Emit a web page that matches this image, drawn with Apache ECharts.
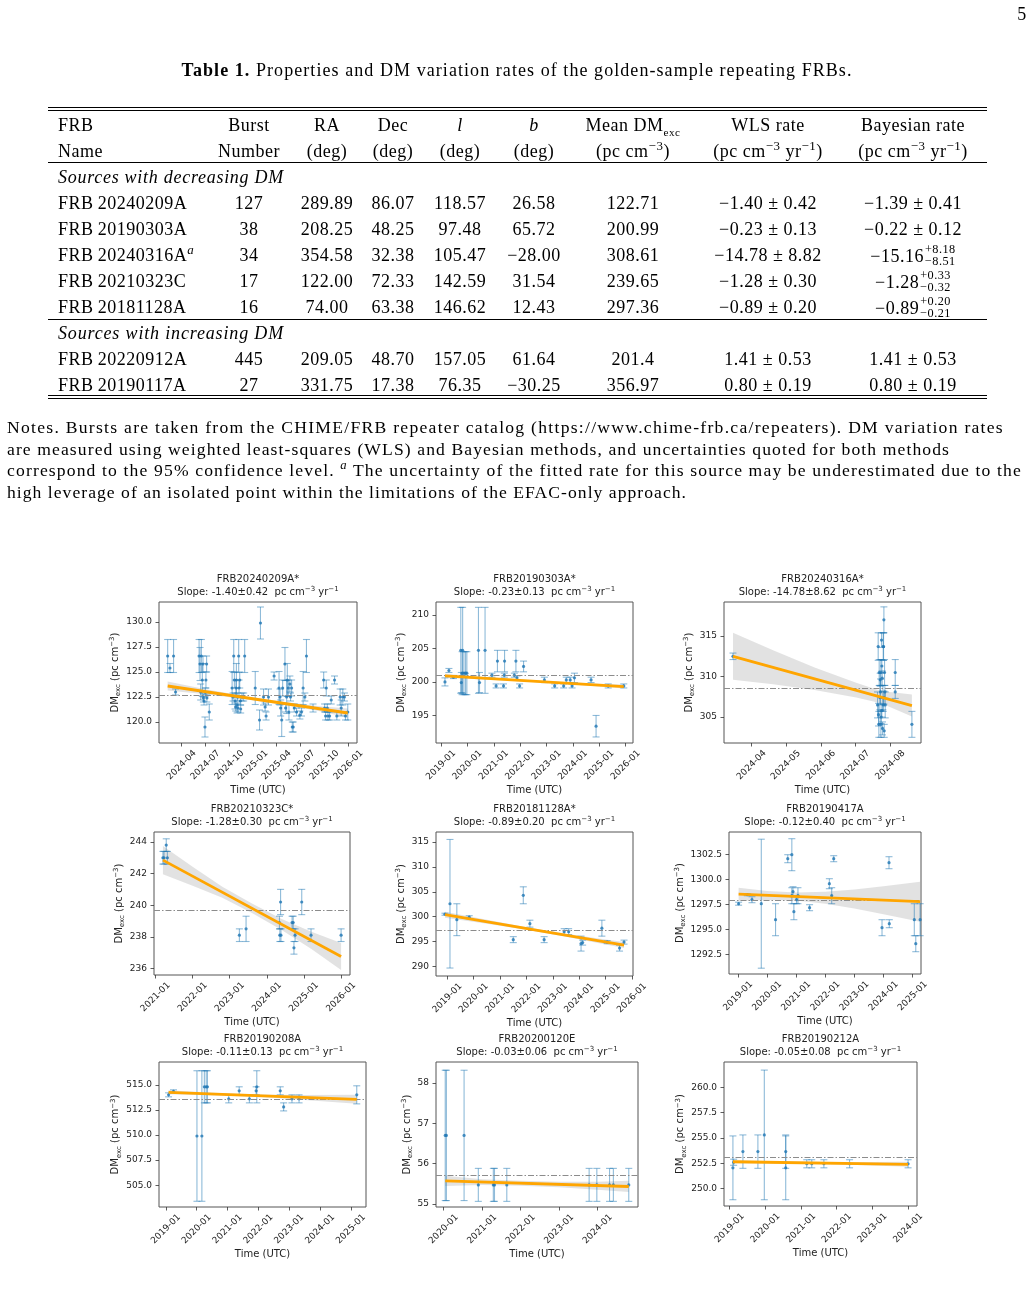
<!DOCTYPE html>
<html>
<head>
<meta charset="utf-8">
<script src="https://cdn.jsdelivr.net/npm/echarts@6/dist/echarts.min.js"></script>
<style>
html, body { margin: 0; padding: 0; background: #fff; }
#page { position: relative; width: 1034px; height: 1294px; overflow: hidden; font-family: "Liberation Serif", "DejaVu Serif", serif; color: #000; }
#chart { position: absolute; left: 0; top: 0; width: 1034px; height: 1294px; z-index: 0; }
.c, .l { position: absolute; white-space: nowrap; font-size: 18px; line-height: 1; letter-spacing: 0.5px; z-index: 1; }
.c { transform: translate(-50%, -50%); }
.l { transform: translate(0, -50%); }
.rule { position: absolute; left: 48px; width: 939px; height: 1px; background: #000; z-index: 1; }
sup, sub { font-size: 0.72em; line-height: 0; }
.ud { display: inline-block; vertical-align: -0.28em; font-size: 0.68em; line-height: 1.02; text-align: left; margin-left: 1px; }
.ud span { display: block; }
.note { position: absolute; left: 7px; white-space: nowrap; font-size: 17.6px; line-height: 1; transform: translate(0, -50%); z-index: 1; }
</style>
</head>
<body>
<div id="page">
  <div id="chart"></div>
</div>
<script>
// ---------- table data ----------
const frbNames = ['FRB\u200920240209A', 'FRB\u200920190303A', 'FRB\u200920240316A<sup><i>a</i></sup>', 'FRB\u200920210323C', 'FRB\u200920181128A', 'FRB\u200920220912A', 'FRB\u200920190117A']
const burstNumbers = ['127', '38', '34', '17', '16', '445', '27']
const raDeg = ['289.89', '208.25', '354.58', '122.00', '74.00', '209.05', '331.75']
const decDeg = ['86.07', '48.25', '32.38', '72.33', '63.38', '48.70', '17.38']
const lDeg = ['118.57', '97.48', '105.47', '142.59', '146.62', '157.05', '76.35']
const bDeg = ['26.58', '65.72', '\u221228.00', '31.54', '12.43', '61.64', '\u221230.25']
const meanDm = ['122.71', '200.99', '308.61', '239.65', '297.36', '201.4', '356.97']
const wlsRate = ['\u22121.40 \u00b1 0.42', '\u22120.23 \u00b1 0.13', '\u221214.78 \u00b1 8.82', '\u22121.28 \u00b1 0.30', '\u22120.89 \u00b1 0.20', '1.41 \u00b1 0.53', '0.80 \u00b1 0.19']
const bayesRate = [
  '\u22121.39 \u00b1 0.41',
  '\u22120.22 \u00b1 0.12',
  '\u221215.16<span class="ud"><span>+8.18</span><span>\u22128.51</span></span>',
  '\u22121.28<span class="ud"><span>+0.33</span><span>\u22120.32</span></span>',
  '\u22120.89<span class="ud"><span>+0.20</span><span>\u22120.21</span></span>',
  '1.41 \u00b1 0.53',
  '0.80 \u00b1 0.19',
]

// ---------- panel data: [decimal year, DM_exc, error] ----------
const pts20240209A = [
  [2024.101, 126.6, 1.65], [2024.125, 125.4, 0.45], [2024.163, 126.6, 1.65], [2024.184, 123.0, 0.3],
  [2024.431, 126.6, 1.65], [2024.441, 125.8, 1.65], [2024.448, 123.0, 0.8], [2024.455, 126.6, 1.65], [2024.465, 124.2, 1.65],
  [2024.472, 125.8, 0.8], [2024.476, 122.4, 0.4], [2024.483, 122.1, 0.4], [2024.493, 119.5, 1.0], [2024.497, 123.0, 0.4],
  [2024.503, 124.2, 0.8], [2024.510, 125.8, 0.8], [2024.513, 122.4, 0.4], [2024.538, 121.0, 0.8],
  [2024.778, 123.4, 1.65], [2024.788, 122.5, 0.4], [2024.795, 126.6, 1.65], [2024.802, 124.2, 0.8], [2024.809, 122.1, 0.8],
  [2024.816, 121.5, 0.4], [2024.819, 123.4, 0.8], [2024.823, 124.2, 1.65], [2024.830, 121.7, 0.8], [2024.837, 122.5, 0.4],
  [2024.840, 121.4, 0.4], [2024.847, 126.6, 1.65], [2024.851, 123.4, 0.8], [2024.858, 124.2, 0.8], [2024.865, 122.1, 0.4],
  [2024.868, 121.3, 0.4], [2024.882, 122.5, 0.4], [2024.899, 122.5, 0.4], [2024.910, 126.6, 1.65],
  [2025.021, 123.4, 1.65], [2025.066, 120.2, 1.0], [2025.076, 129.9, 1.6], [2025.108, 122.5, 0.8], [2025.125, 121.5, 0.4],
  [2025.135, 120.6, 0.4], [2025.160, 122.5, 0.8], [2025.219, 124.6, 0.4],
  [2025.271, 123.4, 1.65], [2025.281, 122.5, 0.8], [2025.288, 121.4, 0.8], [2025.299, 120.2, 1.65], [2025.309, 123.4, 0.8],
  [2025.333, 125.8, 1.65], [2025.340, 121.4, 0.4], [2025.351, 122.5, 1.65], [2025.358, 124.2, 1.65], [2025.368, 123.4, 0.8],
  [2025.375, 121.0, 0.8], [2025.385, 123.8, 0.8], [2025.392, 122.5, 0.4], [2025.403, 123.4, 0.8], [2025.410, 119.5, 0.5],
  [2025.420, 119.5, 0.5], [2025.431, 121.4, 0.4], [2025.455, 121.0, 0.4], [2025.490, 120.7, 0.4], [2025.507, 121.0, 0.4],
  [2025.524, 123.4, 1.65], [2025.542, 122.5, 0.4], [2025.559, 126.6, 1.65], [2025.628, 121.4, 0.4],
  [2025.740, 124.2, 0.8], [2025.750, 121.4, 0.4], [2025.760, 120.6, 0.4], [2025.767, 123.4, 0.8], [2025.778, 121.4, 0.4],
  [2025.785, 120.6, 0.4], [2025.802, 120.6, 0.4], [2025.819, 122.2, 0.4], [2025.854, 124.2, 0.4], [2025.878, 120.6, 0.4],
  [2025.913, 122.5, 0.8], [2025.924, 121.4, 0.8], [2025.941, 122.5, 0.8], [2025.958, 122.5, 0.4], [2025.969, 120.6, 0.4],
  [2025.993, 121.0, 0.8],
]
const pts20190303A = [
  [2019.15, 200.0, 0.6], [2019.30, 201.7, 0.3], [2019.47, 200.7, 0.2],
  [2019.75, 204.7, 6.4], [2019.77, 199.9, 1.5], [2019.80, 201.3, 3.2], [2019.82, 204.7, 6.4], [2019.87, 201.3, 3.2],
  [2019.93, 201.3, 3.2], [2019.98, 201.3, 3.2],
  [2020.42, 204.7, 6.4], [2020.46, 199.9, 1.5], [2020.67, 204.7, 6.4],
  [2020.93, 201.0, 0.3], [2021.09, 199.4, 0.3], [2021.14, 203.1, 1.6], [2021.37, 199.4, 0.3], [2021.40, 201.0, 0.3],
  [2021.41, 203.1, 1.6], [2021.78, 201.0, 0.3], [2021.84, 203.1, 1.6], [2021.88, 200.6, 0.3], [2021.98, 199.4, 0.3],
  [2022.13, 202.3, 0.8], [2022.92, 200.3, 0.4], [2023.31, 199.4, 0.3], [2023.65, 199.4, 0.3], [2023.75, 200.3, 0.4],
  [2023.90, 200.3, 0.4], [2023.97, 199.4, 0.3], [2024.06, 200.6, 0.7], [2024.69, 200.3, 0.4], [2024.88, 193.4, 1.6],
  [2025.34, 199.4, 0.3], [2025.93, 199.4, 0.3],
]
const pts20240316A = [
  [2024.2036, 312.5, 0.4],
  [2024.5514, 306.5, 1.6], [2024.5530, 313.7, 1.7], [2024.5538, 305.3, 1.4], [2024.5546, 304.1, 1.6], [2024.5554, 310.5, 1.6],
  [2024.5570, 307.4, 1.5], [2024.5578, 309.6, 0.8], [2024.5586, 308.1, 1.6], [2024.5594, 304.1, 1.6], [2024.5602, 305.0, 0.8],
  [2024.5610, 314.5, 0.9], [2024.5618, 311.3, 0.8], [2024.5626, 309.8, 0.9], [2024.5634, 303.6, 0.8], [2024.5643, 307.4, 1.5],
  [2024.5651, 306.5, 0.8], [2024.5659, 313.7, 1.7], [2024.5667, 317.0, 1.6], [2024.5675, 303.3, 0.8], [2024.5683, 310.5, 1.6],
  [2024.5691, 308.1, 0.8], [2024.5699, 306.5, 1.6], [2024.5651, 313.7, 1.7], [2024.5594, 310.5, 1.6], [2024.5618, 305.8, 0.8],
  [2024.5667, 307.4, 0.8],
  [2024.5940, 310.5, 1.6], [2024.5940, 308.1, 0.8], [2024.6341, 304.1, 1.6],
]
const pts20210323C = [
  [2021.20, 243.0, 0.4], [2021.23, 243.0, 0.4], [2021.29, 243.8, 0.4], [2021.32, 243.0, 0.4], [2023.26, 238.1, 0.4],
  [2023.44, 238.5, 0.8], [2024.34, 238.9, 0.4], [2024.35, 238.1, 0.4], [2024.37, 240.2, 0.8], [2024.38, 238.1, 0.4],
  [2024.68, 238.9, 0.4], [2024.71, 238.9, 0.4], [2024.73, 237.3, 0.4], [2024.76, 238.1, 0.4], [2024.94, 240.2, 0.8],
  [2025.19, 238.1, 0.4], [2026.00, 238.1, 0.4],
]
const pts20181128A = [
  [2018.91, 300.5, 0.2], [2019.10, 302.6, 12.9], [2019.36, 299.4, 3.2], [2019.83, 299.9, 0.3], [2021.50, 295.4, 0.6],
  [2021.88, 304.3, 1.7], [2022.13, 298.6, 0.7], [2022.67, 295.4, 0.6], [2023.43, 297.0, 0.6], [2023.60, 297.0, 0.6],
  [2024.07, 294.6, 1.5], [2024.13, 294.8, 0.5], [2024.86, 297.7, 1.6], [2025.06, 294.9, 0.3], [2025.53, 293.7, 0.6],
  [2025.70, 294.9, 0.4],
]
const pts20190417A = [
  [2019.02, 1297.6, 0.15], [2019.32, 1298.5, 0.1], [2019.48, 1298.0, 0.3], [2019.80, 1297.6, 6.45], [2020.29, 1296.0, 1.6],
  [2020.71, 1302.1, 0.4], [2020.85, 1302.5, 1.6], [2020.85, 1298.4, 0.8], [2020.89, 1298.8, 0.5], [2020.92, 1296.8, 0.8],
  [2021.01, 1298.0, 0.4], [2021.06, 1298.4, 0.8], [2021.46, 1297.2, 0.3], [2022.14, 1299.6, 0.5], [2022.22, 1298.4, 0.8],
  [2022.29, 1302.1, 0.3], [2023.95, 1295.2, 0.8], [2024.19, 1301.7, 0.6], [2024.20, 1295.6, 0.4], [2025.06, 1296.0, 1.6],
  [2025.11, 1293.6, 0.8], [2025.26, 1296.0, 1.6],
]
const pts20190208A = [
  [2019.09, 514.0, 0.2], [2019.25, 514.35, 0.15], [2020.01, 509.9, 6.5], [2020.17, 509.9, 6.5], [2020.25, 514.8, 1.6],
  [2020.31, 514.8, 1.6], [2020.35, 514.8, 1.6], [2021.04, 513.6, 0.4], [2021.38, 514.4, 0.4], [2021.71, 513.6, 0.4],
  [2021.93, 514.4, 0.4], [2021.95, 514.8, 1.6], [2022.71, 514.4, 0.4], [2022.82, 512.8, 0.4], [2023.09, 513.6, 0.4],
  [2023.32, 513.6, 0.4], [2025.19, 514.0, 0.9],
]
const pts20200120E = [
  [2020.04, 56.7, 1.62], [2020.07, 56.7, 1.62], [2020.53, 56.7, 1.62], [2020.90, 55.47, 0.41], [2021.29, 55.47, 0.41],
  [2021.32, 55.47, 0.41], [2021.64, 55.47, 0.41], [2023.78, 55.47, 0.41], [2023.98, 55.47, 0.41], [2024.31, 55.47, 0.41],
  [2024.41, 55.47, 0.41], [2024.81, 55.47, 0.41],
]
const pts20190212A = [
  [2019.09, 252.05, 3.15], [2019.11, 252.6, 0.3], [2019.37, 253.65, 1.65], [2019.79, 253.65, 1.65], [2019.97, 255.3, 6.4],
  [2020.57, 253.65, 1.65], [2020.57, 252.05, 3.15], [2021.16, 252.45, 0.4], [2021.30, 252.45, 0.4], [2021.64, 252.45, 0.4],
  [2022.36, 252.45, 0.4], [2024.00, 252.45, 0.4],
]

// fitted lines: [[x0, y0], [x1, y1]]
const fits = [
  [[2024.101, 123.6], [2025.993, 120.9]],
  [[2019.15, 200.9], [2025.93, 199.3]],
  [[2024.2036, 312.5], [2024.6341, 306.4]],
  [[2021.20, 242.85], [2026.00, 236.75]],
  [[2018.91, 300.4], [2025.70, 294.3]],
  [[2019.02, 1298.55], [2025.26, 1297.8]],
  [[2019.09, 514.25], [2025.19, 513.55]],
  [[2020.04, 55.57], [2024.81, 55.43]],
  [[2019.09, 252.65], [2024.00, 252.4]],
]
// confidence bands: [x, upper, lower]
const bands = [
  [[2024.101, 124.05, 123.15], [2024.5, 123.28, 122.78], [2024.9, 122.61, 122.31], [2025.3, 122.04, 121.74], [2025.7, 121.57, 121.07], [2025.993, 121.35, 120.45]],
  [[2019.15, 201.2, 200.6], [2020.5, 200.78, 200.38], [2022.0, 200.35, 200.11], [2023.5, 199.99, 199.75], [2025.0, 199.72, 199.32], [2025.93, 199.6, 199.0]],
  [[2024.2036, 315.4, 309.6], [2024.30, 313.24, 309.04], [2024.40, 311.13, 308.33], [2024.50, 309.22, 307.42], [2024.56, 308.22, 306.72], [2024.6341, 307.78, 305.08]],
  [[2021.2, 243.75, 241.95], [2022.0, 242.43, 241.23], [2022.8, 241.17, 240.47], [2023.6, 240.1, 239.5], [2024.4, 239.13, 238.43], [2025.2, 238.32, 237.22], [2026.0, 237.6, 235.9]],
  [[2018.91, 301.0, 299.8], [2020.5, 299.37, 298.57], [2022.0, 297.88, 297.38], [2023.5, 296.58, 295.98], [2025.0, 295.43, 294.43], [2025.70, 294.9, 293.7]],
  [[2019.02, 1299.2, 1297.9], [2020.0, 1298.88, 1297.98], [2021.0, 1298.71, 1297.91], [2022.0, 1298.79, 1297.59], [2023.0, 1299.02, 1297.12], [2024.0, 1299.35, 1296.55], [2025.26, 1299.8, 1295.8]],
  [[2019.09, 514.45, 514.05], [2020.5, 514.21, 513.97], [2022.0, 514.04, 513.8], [2023.5, 513.99, 513.49], [2025.19, 514.0, 513.1]],
  [[2020.04, 55.70, 55.44], [2021.0, 55.61, 55.47], [2022.0, 55.57, 55.45], [2023.0, 55.55, 55.41], [2024.0, 55.55, 55.35], [2024.81, 55.57, 55.29]],
  [[2019.09, 252.8, 252.5], [2020.5, 252.68, 252.48], [2022.0, 252.6, 252.4], [2024.0, 252.65, 252.15]],
]

const panelPoints = [pts20240209A, pts20190303A, pts20240316A, pts20210323C, pts20181128A, pts20190417A, pts20190208A, pts20200120E, pts20190212A]
const panelNames = ['FRB20240209A*', 'FRB20190303A*', 'FRB20240316A*', 'FRB20210323C*', 'FRB20181128A*', 'FRB20190417A', 'FRB20190208A', 'FRB20200120E', 'FRB20190212A']
const panelSlopes = ['-1.40\u00b10.42', '-0.23\u00b10.13', '-14.78\u00b18.62', '-1.28\u00b10.30', '-0.89\u00b10.20', '-0.12\u00b10.40', '-0.11\u00b10.13', '-0.03\u00b10.06', '-0.05\u00b10.08']
const panelMeans = [122.71, 200.99, 308.61, 239.65, 297.36, 1297.95, 513.6, 55.72, 253.07]
const xRanges = [[2024.01, 2026.09], [2018.81, 2026.28], [2024.182, 2024.656], [2020.96, 2026.24], [2018.57, 2026.04], [2018.69, 2025.29], [2018.78, 2025.49], [2019.80, 2025.05], [2018.84, 2024.25]]
const yRanges = [[117.9, 132.0], [190.9, 211.9], [301.8, 319.2], [235.58, 244.63], [288.1, 317.0], [1290.57, 1304.77], [502.83, 517.27], [54.92, 58.525], [248.28, 262.5]]
const yearTicks = (a, b) => { const out = []; for (let y = a; y <= b; y++) out.push(y + '-01'); return out }
const xTickLabels = [
  ['2024-04', '2024-07', '2024-10', '2025-01', '2025-04', '2025-07', '2025-10', '2026-01'],
  yearTicks(2019, 2026),
  ['2024-04', '2024-05', '2024-06', '2024-07', '2024-08'],
  yearTicks(2021, 2026),
  yearTicks(2019, 2026),
  yearTicks(2019, 2025),
  yearTicks(2019, 2025),
  yearTicks(2020, 2024),
  yearTicks(2019, 2024),
]
const yTickValues = [
  [120.0, 122.5, 125.0, 127.5, 130.0],
  [195, 200, 205, 210],
  [305, 310, 315],
  [236, 238, 240, 242, 244],
  [290, 295, 300, 305, 310, 315],
  [1292.5, 1295.0, 1297.5, 1300.0, 1302.5],
  [505.0, 507.5, 510.0, 512.5, 515.0],
  [55, 56, 57, 58],
  [250.0, 252.5, 255.0, 257.5, 260.0],
]
const yDecimals = [1, 0, 0, 0, 0, 1, 1, 0, 1]

// ---------- layout ----------
const boxes = [
  [159, 602, 198, 141], [436, 602, 197, 141], [724, 602, 197, 141],
  [154, 832, 196, 143], [436, 832, 197, 144], [729, 832, 192, 142],
  [159, 1062, 207, 145], [436, 1062, 202, 145], [724, 1062, 193, 144],
]
const yNameGaps = [37, 24, 27, 26, 24, 40, 35, 19, 34]

// ---------- table text ----------
const page = document.getElementById('page')
const put = (html, x, y, cls = 'c') => {
  const d = document.createElement('div')
  d.className = cls
  d.style.left = x + 'px'
  d.style.top = y + 'px'
  d.innerHTML = html
  page.appendChild(d)
  return d
}
const rule = y => {
  const d = document.createElement('div')
  d.className = 'rule'
  d.style.top = y + 'px'
  page.appendChild(d)
}
// stretch a text line to the width it has in the typeset page (wider serif)
const fitWidth = (el, target) => {
  el.style.letterSpacing = '0px'
  const w = el.getBoundingClientRect().width
  const n = Math.max(1, el.textContent.length)
  el.style.letterSpacing = ((target - w) / n) + 'px'
}

put('5', 1022, 14)
fitWidth(put('<b>Table 1.</b> Properties and DM variation rates of the golden-sample repeating FRBs.', 517, 70), 671)
rule(106.5); rule(109.5); rule(162); rule(319); rule(394.5); rule(397.5)

const colX = [249, 327, 393, 460, 534, 633, 768, 913]
put('FRB', 58, 125, 'l')
put('Name', 58, 151, 'l')
;['Burst', 'RA', 'Dec', '<i>l</i>', '<i>b</i>', 'Mean DM<sub style="font-size:0.62em">exc</sub>', 'WLS rate', 'Bayesian rate'].forEach((h, i) => put(h, colX[i], 125))
;['Number', '(deg)', '(deg)', '(deg)', '(deg)', '(pc cm<sup>\u22123</sup>)', '(pc cm<sup>\u22123</sup> yr<sup>\u22121</sup>)', '(pc cm<sup>\u22123</sup> yr<sup>\u22121</sup>)'].forEach((h, i) => put(h, colX[i], 151))
fitWidth(put('<i>Sources with decreasing DM</i>', 58, 177, 'l'), 226)
fitWidth(put('<i>Sources with increasing DM</i>', 58, 333, 'l'), 226)
const rowY = [203, 229, 255, 281, 307, 359, 385]
rowY.forEach((y, r) => {
  put(frbNames[r], 58, y, 'l')
  ;[burstNumbers, raDeg, decDeg, lDeg, bDeg, meanDm, wlsRate, bayesRate].forEach((col, i) => put(col[r], colX[i], y))
})

const noteLines = [
  'Notes. Bursts are taken from the CHIME/FRB repeater catalog (https://www.chime-frb.ca/repeaters). DM variation rates',
  'are measured using weighted least-squares (WLS) and Bayesian methods, and uncertainties quoted for both methods',
  'correspond to the 95% confidence level. <sup><i>a</i></sup> The uncertainty of the fitted rate for this source may be underestimated due to the',
  'high leverage of an isolated point within the limitations of the EFAC-only approach.',
]
const noteY = [428, 450, 471, 493]
const noteWidths = [997, 943, 1015, 680]
noteLines.forEach((t, i) => fitWidth(put(t, 7, noteY[i], 'note'), noteWidths[i]))

// ---------- charts ----------
const decYear = s => {
  const [y, m] = s.split('-').map(Number)
  const t0 = Date.UTC(y, 0, 1)
  const t1 = Date.UTC(y + 1, 0, 1)
  return y + (Date.UTC(y, m - 1, 1) - t0) / (t1 - t0)
}

const FONT = 'DejaVu Sans'
const TXT = '#222'
const supStyle = {fontSize: 7, fontFamily: FONT, color: TXT, verticalAlign: 'top', lineHeight: 13}
const subStyle = {fontSize: 7, fontFamily: FONT, color: TXT, verticalAlign: 'bottom', lineHeight: 13}

const grids = [], xAxes = [], yAxes = [], series = [], graphics = []

boxes.forEach((b, i) => {
  const [left, top, width, height] = b
  grids.push({left, top, width, height, show: true, borderColor: '#555', borderWidth: 1, backgroundColor: 'transparent', containLabel: false, outerBoundsMode: 'none'})

  const tickVals = xTickLabels[i].map(decYear)
  xAxes.push({
    gridIndex: i, type: 'value', min: xRanges[i][0], max: xRanges[i][1],
    axisLine: {show: false},
    splitLine: {show: false},
    axisTick: {show: true, length: 3.5, customValues: tickVals, lineStyle: {color: '#333', width: 0.8}},
    axisLabel: {
      customValues: tickVals, rotate: 45, align: 'center', verticalAlign: 'middle', margin: 22,
      fontSize: 9, fontFamily: FONT, color: TXT,
      formatter: v => {
        const k = tickVals.findIndex(t => Math.abs(t - v) < 1e-6)
        return k >= 0 ? xTickLabels[i][k] : ''
      },
    },
    name: 'Time (UTC)', nameLocation: 'middle', nameGap: 42,
    nameTextStyle: {fontSize: 10, fontFamily: FONT, color: TXT},
  })

  yAxes.push({
    gridIndex: i, type: 'value', min: yRanges[i][0], max: yRanges[i][1],
    axisLine: {show: false},
    splitLine: {show: false},
    axisTick: {show: true, length: 3.5, customValues: yTickValues[i], lineStyle: {color: '#333', width: 0.8}},
    axisLabel: {
      customValues: yTickValues[i], margin: 7, fontSize: 9, fontFamily: FONT, color: TXT,
      formatter: v => v.toFixed(yDecimals[i]),
    },
    name: 'DM{sub|exc} (pc cm{sup|\u22123})', nameLocation: 'middle', nameRotate: 90, nameGap: yNameGaps[i],
    nameTextStyle: {fontSize: 10, fontFamily: FONT, color: TXT, lineHeight: 13, rich: {sub: subStyle, sup: supStyle}},
  })

  const pts = panelPoints[i]
  const band = bands[i]

  series.push({
    type: 'custom', xAxisIndex: i, yAxisIndex: i, z: 1, silent: true,
    data: band,
    renderItem: (params, api) => {
      if (params.dataIndex !== 0) return null
      const upper = band.map(p => api.coord([p[0], p[1]]))
      const lower = band.map(p => api.coord([p[0], p[2]])).reverse()
      return {type: 'polygon', shape: {points: upper.concat(lower)}, style: {fill: 'rgba(150,150,150,0.28)'}}
    },
  })

  series.push({
    type: 'custom', xAxisIndex: i, yAxisIndex: i, z: 2, silent: true,
    data: pts.map(p => [p[0], p[1] - p[2], p[1] + p[2]]),
    encode: {x: 0, y: [1, 2]},
    renderItem: (params, api) => {
      const lo = api.coord([api.value(0), api.value(1)])
      const hi = api.coord([api.value(0), api.value(2)])
      const st = () => ({stroke: 'rgba(31,119,180,0.5)', lineWidth: 1.1})
      return {
        type: 'group', children: [
          {type: 'line', shape: {x1: lo[0], y1: lo[1], x2: hi[0], y2: hi[1]}, style: st()},
          {type: 'line', shape: {x1: lo[0] - 3.5, y1: lo[1], x2: lo[0] + 3.5, y2: lo[1]}, style: st()},
          {type: 'line', shape: {x1: hi[0] - 3.5, y1: hi[1], x2: hi[0] + 3.5, y2: hi[1]}, style: st()},
        ],
      }
    },
  })

  series.push({
    type: 'scatter', xAxisIndex: i, yAxisIndex: i, z: 3, silent: true,
    symbol: 'circle', symbolSize: 3.2,
    itemStyle: {color: '#1f77b4'},
    data: pts.map(p => [p[0], p[1]]),
    markLine: {
      silent: true, symbol: 'none', label: {show: false},
      lineStyle: {color: '#8c8c8c', width: 1, type: [6, 2, 1.5, 2]},
      data: [{yAxis: panelMeans[i]}],
    },
  })

  series.push({
    type: 'line', xAxisIndex: i, yAxisIndex: i, z: 5, silent: true,
    symbol: 'none', data: fits[i],
    lineStyle: {color: '#ffa500', width: 2.8},
  })

  const cx = left + width / 2
  graphics.push({
    type: 'text', x: cx, y: top - 22.5, silent: true,
    style: {text: panelNames[i], fontSize: 10, fontFamily: FONT, fill: TXT, align: 'center', verticalAlign: 'middle'},
  })
  graphics.push({
    type: 'text', x: cx, y: top - 9.5, silent: true,
    style: {
      text: 'Slope: ' + panelSlopes[i] + '  pc cm{sup|\u22123} yr{sup|\u22121}',
      fontSize: 10, fontFamily: FONT, fill: TXT, align: 'center', verticalAlign: 'middle', lineHeight: 13,
      rich: {sup: {fontSize: 7, fontFamily: FONT, fill: TXT, verticalAlign: 'top', lineHeight: 13}},
    },
  })
})

const chart = echarts.init(document.getElementById('chart'))
chart.setOption({
  animation: false,
  backgroundColor: 'transparent',
  grid: grids,
  xAxis: xAxes,
  yAxis: yAxes,
  series,
  graphic: graphics,
})
</script>
</body>
</html>
